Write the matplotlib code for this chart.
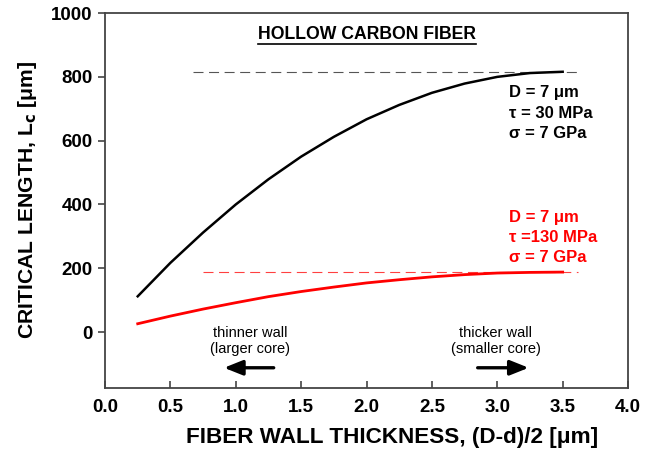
import matplotlib
matplotlib.use('Agg')
import matplotlib.pyplot as plt
from matplotlib.lines import Line2D

plt.rcParams['font.family'] = ['Liberation Sans', 'DejaVu Sans']

# wall thickness (D-d)/2 [um]
thickness = [0.25, 0.5, 0.75, 1.0, 1.25, 1.5, 1.75, 2.0, 2.25, 2.5, 2.75, 3.0, 3.25, 3.5]
# critical length [um], tau = 30 MPa
lc_30 = [112, 217, 312, 400, 479, 550, 612, 667, 712, 750, 779, 800, 812, 816]
# critical length [um], tau = 130 MPa
lc_130 = [26, 50, 72, 92, 111, 127, 141, 154, 164, 173, 180, 185, 187, 188]

# plateau guides (solid-fibre values)
plateau_30 = 816
plateau_130 = 188
plateau_30_span = [0.67, 3.62]
plateau_130_span = [0.75, 3.62]

x_ticks = [0.0, 0.5, 1.0, 1.5, 2.0, 2.5, 3.0, 3.5, 4.0]
y_ticks = [0, 200, 400, 600, 800, 1000]

fig = plt.figure(figsize=(6.54, 4.51), dpi=100)
ax = fig.add_axes([0.1606, 0.140, 0.7997, 0.831])

ax.plot(plateau_30_span, [plateau_30, plateau_30], color='#555555', lw=0.8,
        dashes=(9, 5))
ax.plot(plateau_130_span, [plateau_130, plateau_130], color='#ff4040', lw=0.8,
        dashes=(9, 5))
ax.plot(thickness, lc_30, color='black', lw=1.8)
ax.plot(thickness, lc_130, color='#ff0000', lw=2.0)

ax.set_xlim(0, 4.0)
ax.set_ylim(-175, 1000)
ax.set_xticks(x_ticks)
ax.set_xticklabels([f'{v:.1f}' for v in x_ticks])
ax.set_yticks(y_ticks)
ax.set_yticklabels([str(v) for v in y_ticks])
ax.tick_params(axis='x', direction='in', length=5, width=1.2, colors='#444444',
               labelcolor='black', labelsize=13.5, pad=8)
ax.tick_params(axis='y', direction='out', length=5, width=1.2, colors='#444444',
               labelcolor='black', labelsize=13.5, pad=4)
for lab in ax.get_xticklabels() + ax.get_yticklabels():
    lab.set_fontweight('bold')
for sp in ax.spines.values():
    sp.set_color('#444444')
    sp.set_linewidth(1.3)

ax.set_xlabel('FIBER WALL THICKNESS, (D-d)/2 [\u03bcm]', fontsize=16.2,
              fontweight='bold')
ax.set_ylabel('CRITICAL LENGTH, L$_\\mathbf{c}$ [\u03bcm]', fontsize=15.2,
              fontweight='bold')
ax.xaxis.set_label_coords(0.549, -0.105)
ax.yaxis.set_label_coords(-0.127, 0.5)

title = ax.text(2.0, 934, 'HOLLOW CARBON FIBER', fontsize=12.7, fontweight='bold',
                ha='center', va='center')

for i, s in enumerate(['D = 7 \u03bcm', '\u03c4 = 30 MPa', '\u03c3 = 7 GPa']):
    ax.text(3.09, 750 - i * 64, s, fontsize=12, fontweight='bold', va='center')
for i, s in enumerate(['D = 7 \u03bcm', '\u03c4 =130 MPa', '\u03c3 = 7 GPa']):
    ax.text(3.09, 359 - i * 62, s, fontsize=12, fontweight='bold', va='center',
            color='#ff0000')

ax.text(1.11, -28, 'thinner wall\n(larger core)', fontsize=10.5, ha='center',
        va='center', linespacing=1.1)
ax.text(2.99, -28, 'thicker wall\n(smaller core)', fontsize=10.5, ha='center',
        va='center', linespacing=1.1)
arrow = dict(arrowstyle='-|>,head_length=0.7,head_width=0.28', lw=2.4,
             color='black', mutation_scale=16, shrinkA=0, shrinkB=0)
ax.annotate('', xy=(0.91, -112), xytext=(1.29, -112), arrowprops=arrow)
ax.annotate('', xy=(3.24, -112), xytext=(2.85, -112), arrowprops=arrow)

# underline the title
fig.canvas.draw()
bb = title.get_window_extent()
fig.add_artist(Line2D([bb.x0, bb.x1], [bb.y0 - 1, bb.y0 - 1], color='black',
                      lw=1.2, transform=None))

fig.savefig('out.png', dpi=100)
